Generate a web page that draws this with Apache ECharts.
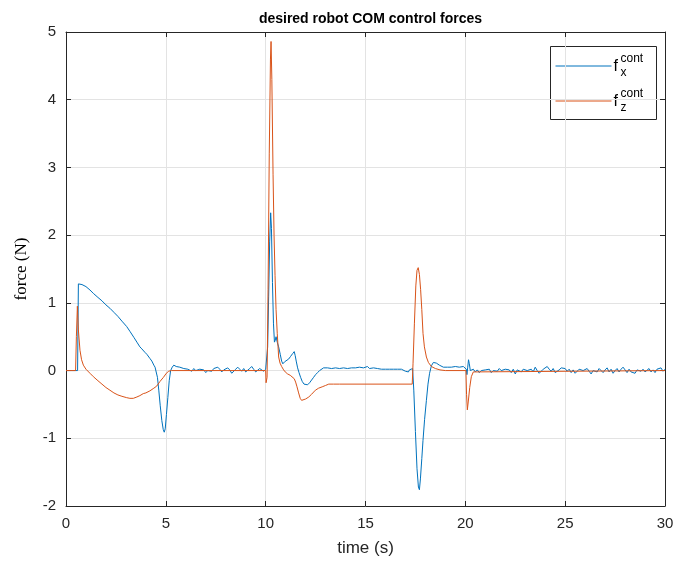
<!DOCTYPE html>
<html>
<head>
<meta charset="utf-8">
<script src="https://cdn.jsdelivr.net/npm/echarts@6/dist/echarts.min.js"></script>
<style>html,body{margin:0;padding:0;background:#fff;}#c{width:677px;height:569px;}</style>
</head>
<body>
<div id="c"></div>
<script>
// ---- data ----
const xTicks = [0, 5, 10, 15, 20, 25, 30];
const yTicks = [-2, -1, 0, 1, 2, 3, 4, 5];

const timeX = [0,0.3,0.58,0.62,0.8,1.0,1.2,1.37,1.6,1.8,2.0,2.2,2.4,2.6,2.8,3.04,3.2,3.4,3.55,3.6,3.7,3.8,3.85,3.95,4.05,4.2,4.3,4.4,4.46,4.52,4.58,4.65,4.72,4.8,4.87,4.92,4.97,5.03,5.1,5.17,5.24,5.32,5.4,5.46,5.52,5.58,
5.6,5.7,5.8,5.9,6.0,6.1,6.2,6.3,6.4,6.5,6.6,6.7,6.8,6.9,7.0,7.1,7.2,7.3,7.4,7.5,7.6,7.7,7.8,7.9,8.0,8.1,8.2,8.3,8.4,8.5,8.6,8.7,8.8,8.9,9.0,9.1,9.2,9.3,9.4,9.5,9.6,9.7,9.8,9.9,10.0,
10.05,10.1,10.15,10.2,10.25,10.29,10.34,10.39,10.44,10.48,10.52,10.58,10.65,10.73,10.8,10.86,10.95,11.05,11.15,11.25,11.35,11.43,11.48,11.53,11.6,11.67,11.75,11.83,11.92,12.0,12.1,12.2,12.3,12.4,12.5,12.6,12.7,12.8,12.9,13.0,13.1,13.2,13.3,
13.4,13.5,13.6,13.7,13.8,13.9,14.0,14.1,14.2,14.3,14.4,14.5,14.6,14.7,14.8,14.9,15.0,15.1,15.2,15.3,15.4,15.5,15.6,15.7,15.8,15.9,16.0,16.1,16.2,16.3,16.4,16.5,16.6,16.7,16.8,16.9,17.0,17.1,17.15,17.2,17.3,17.36,
17.42,17.5,17.58,17.65,17.7,17.75,17.82,17.88,17.96,18.05,18.13,18.21,18.3,18.4,18.46,18.55,18.63,18.7,18.8,18.9,19.0,19.1,19.2,19.3,19.4,19.5,19.6,19.7,19.8,19.9,20.0,20.05,20.08,20.12,20.16,20.2,20.25,20.3,20.35,20.4,
20.5,20.6,20.7,20.8,20.9,21.0,21.1,21.2,21.3,21.4,21.5,21.6,21.7,21.8,21.9,22.0,22.1,22.2,22.3,22.4,22.5,22.6,22.7,22.8,22.9,23.0,23.1,23.2,23.3,23.4,23.5,23.6,23.7,23.8,23.9,24.0,24.1,24.2,24.3,24.4,24.5,24.6,24.7,24.8,24.9,25.0,25.1,25.2,25.3,25.4,25.5,25.6,25.7,25.8,25.9,26.0,26.1,26.2,26.3,26.4,26.5,26.6,26.7,26.8,26.9,27.0,27.1,27.2,27.3,27.4,27.5,27.6,27.7,27.8,27.9,28.0,28.1,28.2,28.3,28.4,28.5,28.6,28.7,28.8,28.9,29.0,29.1,29.2,29.3,29.4,29.5,29.6,29.7,29.8,29.9,30.0];

const forceX = [0,0,0,1.28,1.27,1.24,1.19,1.14,1.08,1.03,0.97,0.92,0.86,0.80,0.73,0.65,0.58,0.49,0.42,0.41,0.35,0.32,0.33,0.27,0.24,0.18,0.14,0.08,0.05,0.03,-0.1,-0.3,-0.52,-0.74,-0.87,-0.91,-0.86,-0.65,-0.4,-0.15,0.0,0.05,0.08,0.09,0.06,0.08,
0.07,0.05,0.07,0.03,0.05,0.02,0.04,-0.01,0.03,0.0,-0.02,0.02,0.04,0.01,-0.03,0.0,0.02,-0.01,0.03,0.01,0.05,0.02,-0.02,0.01,0.0,0.04,0.01,-0.04,-0.02,0.02,0.05,0.02,-0.01,0.03,-0.02,0.0,0.03,0.06,0.02,-0.02,0.0,0.03,0.01,-0.01,0.02,
0.0,0.35,1.1,1.9,2.33,2.1,1.3,0.7,0.42,0.45,0.5,0.42,0.35,0.24,0.14,0.1,0.13,0.15,0.17,0.21,0.25,0.28,0.22,0.14,0.04,-0.03,-0.1,-0.16,-0.2,-0.21,-0.21,-0.18,-0.14,-0.1,-0.06,-0.03,0.0,0.02,0.04,0.05,0.04,0.05,0.03,
0.05,0.04,0.06,0.03,0.05,0.04,0.06,0.03,0.05,0.04,0.06,0.04,0.03,0.05,0.07,0.04,0.05,0.06,0.03,0.05,0.04,0.06,0.03,0.04,0.02,0.03,0.02,0.03,0.02,0.03,0.02,0.03,0.02,0.03,0.02,0.01,-0.01,-0.02,-0.02,0.01,0.02,0.03,
-0.3,-0.9,-1.45,-1.72,-1.76,-1.6,-1.3,-1.03,-0.72,-0.44,-0.2,-0.04,0.07,0.12,0.13,0.11,0.1,0.08,0.06,0.05,0.04,0.05,0.03,0.05,0.04,0.06,0.04,0.05,0.05,0.06,0.05,0.02,-0.06,0.05,0.16,0.1,0.0,-0.02,0.0,0.02,
-0.02,0.01,-0.03,0.0,-0.02,0.01,-0.01,0.02,-0.03,0.0,0.02,-0.01,0.03,0.0,-0.02,0.02,0.04,0.01,-0.03,0.02,-0.05,0.01,0.03,-0.02,0.02,0.04,0.0,-0.01,0.02,-0.02,0.05,0.0,-0.04,-0.02,0.02,0.03,0.06,0.02,-0.01,0.03,-0.03,-0.04,0.01,0.04,0.02,0.03,-0.01,0.02,-0.03,0.01,-0.04,-0.01,0.02,0.04,0.0,-0.02,0.03,-0.01,-0.05,0.0,0.02,-0.02,0.03,0.0,-0.03,0.01,0.04,-0.02,0.02,-0.04,0.0,0.03,-0.02,0.02,0.05,0.01,-0.03,0.02,-0.02,0.0,-0.04,0.01,0.03,-0.01,0.02,-0.02,0.0,0.03,-0.02,0.01,-0.03,0.02,0.0,0.04,-0.01,0.02];

const timeZ = [0,0.48,0.52,0.57,0.62,0.7,0.78,0.87,1.0,1.2,1.37,1.6,1.8,2.0,2.2,2.4,2.6,2.8,3.04,3.2,3.37,3.55,3.7,3.87,4.0,4.2,4.4,4.54,4.71,4.88,5.0,5.13,5.28,
10.0,10.02,10.07,10.12,10.18,10.24,10.27,10.31,10.37,10.42,10.47,10.52,10.58,10.65,10.72,10.8,10.9,10.98,11.1,11.23,11.33,11.43,11.5,11.57,11.65,11.73,11.8,11.9,12.0,12.16,12.3,12.49,12.65,12.83,13.0,13.16,13.4,13.7,
17.34,17.38,17.45,17.52,17.58,17.64,17.7,17.76,17.82,17.88,17.95,18.05,18.15,18.3,18.5,18.73,19.0,20.03,20.06,20.1,20.15,20.22,20.3,20.4,20.5,30.0];

const forceZ = [0,0,0.5,0.95,0.6,0.3,0.16,0.08,0.02,-0.04,-0.09,-0.15,-0.2,-0.25,-0.29,-0.33,-0.36,-0.38,-0.4,-0.41,-0.41,-0.39,-0.37,-0.34,-0.33,-0.3,-0.26,-0.23,-0.16,-0.1,-0.05,-0.01,0.0,
0.0,-0.18,-0.1,1.2,3.2,4.6,4.86,4.3,2.9,2.0,1.4,0.9,0.55,0.2,0.11,0.06,0.01,-0.02,-0.05,-0.07,-0.09,-0.12,-0.17,-0.24,-0.33,-0.41,-0.44,-0.44,-0.42,-0.39,-0.35,-0.29,-0.26,-0.24,-0.22,-0.2,-0.2,-0.2,
-0.2,0.1,0.7,1.25,1.48,1.52,1.42,1.2,0.9,0.55,0.35,0.2,0.12,0.06,0.03,0.01,0.0,0.0,-0.35,-0.58,-0.45,-0.25,-0.09,-0.02,0.0,0.0];

const seriesNames = ['f_x^cont', 'f_z^cont'];
const colors = ['#0072BD', '#D95319'];

// ---- chart ----
const zip = (t, v) => t.map((x, i) => [x, v[i]]);
const axisColor = '#262626';
const font = 'Liberation Sans, Arial, Helvetica, sans-serif';
const gridLeft = 66, gridTop = 32, gridRight = 12, gridBottom = 63;

function xAx(pos, show) {
  return {
    type: 'value', position: pos, min: xTicks[0], max: xTicks[xTicks.length - 1], interval: 5,
    axisLine: { show: true, onZero: false, lineStyle: { color: axisColor, width: 1 } },
    axisTick: { show: true, inside: true, length: 5, lineStyle: { color: axisColor } },
    axisLabel: { show: show, color: axisColor, fontSize: 15, fontFamily: font, margin: 10 },
    splitLine: { show: show, lineStyle: { color: '#e3e3e3', width: 1 } },
    name: show ? 'time (s)' : '', nameLocation: 'middle', nameGap: 34,
    nameTextStyle: { color: axisColor, fontSize: 17, fontFamily: font }
  };
}
function yAx(pos, show) {
  return {
    type: 'value', position: pos, min: yTicks[0], max: yTicks[yTicks.length - 1], interval: 1,
    axisLine: { show: true, onZero: false, lineStyle: { color: axisColor, width: 1 } },
    axisTick: { show: true, inside: true, length: 5, lineStyle: { color: axisColor } },
    axisLabel: { show: show, color: axisColor, fontSize: 15, fontFamily: font, margin: 10 },
    splitLine: { show: show, lineStyle: { color: '#e3e3e3', width: 1 } },
    name: show ? 'force (N)' : '', nameLocation: 'middle', nameGap: 36,
    nameTextStyle: { color: '#000', fontSize: 17, fontFamily: 'Liberation Serif, Times New Roman, serif' }
  };
}

const chart = echarts.init(document.getElementById('c'), null, { renderer: 'canvas' });

const lgX = 550, lgY = 46, lgW = 106, lgH = 73;
const legendGraphic = {
  type: 'group', left: lgX, top: lgY, z: 100,
  children: [
    { type: 'rect', shape: { x: 0, y: 0, width: lgW, height: lgH }, style: { fill: '#fff', stroke: axisColor, lineWidth: 1 } },
    { type: 'line', shape: { x1: 5, y1: 19.5, x2: 61, y2: 19.5 }, style: { stroke: colors[0], lineWidth: 1 } },
    { type: 'text', x: 63, y: 12, style: { text: 'f', fontSize: 16, fontFamily: font, fill: '#000' } },
    { type: 'text', x: 70, y: 6, style: { text: 'cont', fontSize: 12, fontFamily: font, fill: '#000' } },
    { type: 'text', x: 70, y: 20, style: { text: 'x', fontSize: 12, fontFamily: font, fill: '#000' } },
    { type: 'line', shape: { x1: 5, y1: 54.5, x2: 61, y2: 54.5 }, style: { stroke: colors[1], lineWidth: 1 } },
    { type: 'text', x: 63, y: 47, style: { text: 'f', fontSize: 16, fontFamily: font, fill: '#000' } },
    { type: 'text', x: 70, y: 41, style: { text: 'cont', fontSize: 12, fontFamily: font, fill: '#000' } },
    { type: 'text', x: 70, y: 55, style: { text: 'z', fontSize: 12, fontFamily: font, fill: '#000' } }
  ]
};

chart.setOption({
  animation: false,
  backgroundColor: '#fff',
  title: {
    text: 'desired robot COM control forces',
    left: 365.5, top: 7, textAlign: 'center',
    textStyle: { fontSize: 14, fontWeight: 'bold', color: '#000', fontFamily: font }
  },
  grid: { left: gridLeft, top: gridTop, right: gridRight, bottom: gridBottom, containLabel: false },
  xAxis: [xAx('bottom', true), xAx('top', false)],
  yAxis: [yAx('left', true), yAx('right', false)],
  graphic: [legendGraphic],
  series: [
    { name: seriesNames[0], type: 'line', xAxisIndex: 0, yAxisIndex: 0, data: zip(timeX, forceX), showSymbol: false, symbol: 'none',
      lineStyle: { color: colors[0], width: 1 }, itemStyle: { color: colors[0] }, z: 2 },
    { name: seriesNames[1], type: 'line', xAxisIndex: 0, yAxisIndex: 0, data: zip(timeZ, forceZ), showSymbol: false, symbol: 'none',
      lineStyle: { color: colors[1], width: 1 }, itemStyle: { color: colors[1] }, z: 3 }
  ]
});
</script>
</body>
</html>
